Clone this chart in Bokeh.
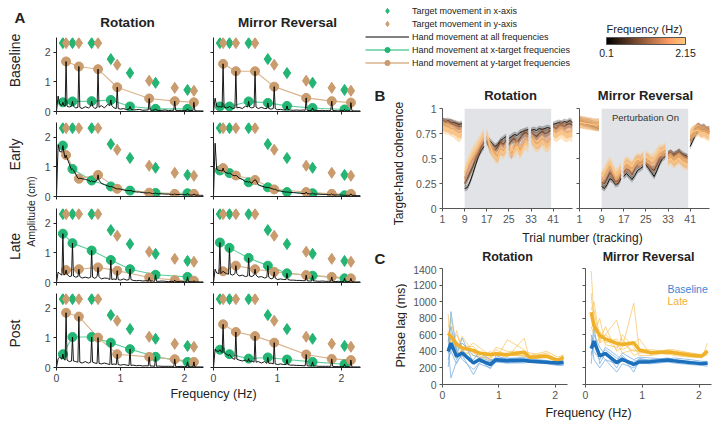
from math import pi
from bokeh.plotting import figure
from bokeh.layouts import row, column
from bokeh.models import (Label, Legend, LegendItem, ColorBar, LinearColorMapper,
                          FixedTicker, BoxAnnotation, Range1d)
from bokeh.embed import file_html
from bokeh.resources import INLINE

FONT = "Liberation Sans"

# ---------------- Panel A data ----------------
x_target_freq = [0.10, 0.25, 0.55, 0.85, 1.15, 1.55, 2.05]
y_target_freq = [0.15, 0.35, 0.65, 0.95, 1.45, 1.85, 2.15]
x_target_amp = [2.31, 2.31, 2.31, 1.77, 1.30, 0.97, 0.73]
y_target_amp = [2.31, 2.31, 2.31, 1.58, 1.04, 0.80, 0.70]

spec_freq = [0.0, 0.025, 0.05, 0.10, 0.15, 0.20, 0.25, 0.30,
             0.35, 0.40, 0.45, 0.50, 0.55, 0.60, 0.65, 0.70,
             0.75, 0.80, 0.85, 0.90, 0.95, 1.00, 1.05, 1.10,
             1.15, 1.20, 1.25, 1.30, 1.35, 1.40, 1.45, 1.50,
             1.55, 1.60, 1.65, 1.70, 1.75, 1.80, 1.85, 1.90,
             1.95, 2.00, 2.05, 2.10, 2.15, 2.20, 2.25, 2.30]

base_rot_floor = [0.00, 0.52, 0.25, 0.20, 0.18, 0.15, 0.18, 0.12,
                  0.14, 0.10, 0.16, 0.12, 0.18, 0.10, 0.14, 0.20,
                  0.12, 0.24, 0.20, 0.12, 0.10, 0.08, 0.10, 0.06,
                  0.08, 0.05, 0.06, 0.07, 0.04, 0.05, 0.05, 0.04,
                  0.05, 0.03, 0.04, 0.05, 0.03, 0.04, 0.04, 0.03,
                  0.03, 0.03, 0.04, 0.03, 0.03, 0.02, 0.02, 0.02]
base_mir_floor = [0.00, 0.45, 0.18, 0.15, 0.15, 0.12, 0.15, 0.10,
                  0.12, 0.14, 0.10, 0.18, 0.15, 0.12, 0.15, 0.10,
                  0.14, 0.10, 0.10, 0.08, 0.10, 0.06, 0.07, 0.05,
                  0.06, 0.05, 0.04, 0.05, 0.04, 0.05, 0.04, 0.03,
                  0.04, 0.04, 0.03, 0.04, 0.03, 0.03, 0.04, 0.03,
                  0.02, 0.03, 0.03, 0.02, 0.03, 0.02, 0.02, 0.02]
early_rot_floor = [0.00, 1.75, 1.52, 1.50, 1.30, 1.10, 0.90, 0.75,
                   0.62, 0.60, 0.58, 0.55, 0.50, 0.50, 0.55, 0.45,
                   0.40, 0.36, 0.33, 0.30, 0.26, 0.25, 0.22, 0.20,
                   0.20, 0.17, 0.15, 0.15, 0.13, 0.12, 0.12, 0.10,
                   0.10, 0.09, 0.09, 0.08, 0.08, 0.07, 0.07, 0.07,
                   0.06, 0.06, 0.06, 0.05, 0.05, 0.05, 0.04, 0.04]
early_mir_floor = [0.00, 1.80, 0.92, 0.88, 0.85, 0.80, 0.78, 0.72,
                   0.70, 0.62, 0.58, 0.50, 0.50, 0.45, 0.55, 0.40,
                   0.35, 0.32, 0.30, 0.28, 0.25, 0.20, 0.18, 0.16,
                   0.15, 0.14, 0.13, 0.12, 0.11, 0.10, 0.10, 0.09,
                   0.09, 0.08, 0.08, 0.07, 0.07, 0.06, 0.06, 0.05,
                   0.05, 0.05, 0.04, 0.04, 0.04, 0.04, 0.03, 0.03]
late_rot_floor = [0.00, 0.35, 0.30, 0.25, 0.28, 0.20, 0.22, 0.18,
                  0.20, 0.15, 0.18, 0.15, 0.18, 0.14, 0.20, 0.12,
                  0.15, 0.14, 0.10, 0.12, 0.10, 0.08, 0.12, 0.08,
                  0.10, 0.07, 0.06, 0.07, 0.05, 0.06, 0.05, 0.05,
                  0.04, 0.04, 0.05, 0.04, 0.03, 0.04, 0.03, 0.03,
                  0.04, 0.03, 0.03, 0.03, 0.02, 0.02, 0.02, 0.02]
late_mir_floor = [0.00, 0.45, 0.32, 0.30, 0.35, 0.30, 0.28, 0.25,
                  0.30, 0.22, 0.25, 0.20, 0.22, 0.20, 0.25, 0.18,
                  0.20, 0.15, 0.18, 0.12, 0.15, 0.10, 0.12, 0.10,
                  0.10, 0.08, 0.08, 0.07, 0.07, 0.06, 0.06, 0.05,
                  0.05, 0.05, 0.04, 0.05, 0.04, 0.04, 0.04, 0.03,
                  0.04, 0.03, 0.03, 0.03, 0.03, 0.02, 0.02, 0.02]
post_rot_floor = [0.00, 0.30, 0.35, 0.28, 0.25, 0.20, 0.22, 0.20,
                  0.18, 0.15, 0.20, 0.15, 0.18, 0.15, 0.14, 0.12,
                  0.15, 0.12, 0.10, 0.12, 0.10, 0.08, 0.10, 0.08,
                  0.07, 0.08, 0.06, 0.07, 0.05, 0.06, 0.05, 0.05,
                  0.04, 0.05, 0.04, 0.04, 0.04, 0.04, 0.03, 0.03,
                  0.04, 0.03, 0.03, 0.03, 0.02, 0.02, 0.02, 0.02]
post_mir_floor = [0.00, 0.62, 0.55, 0.55, 0.50, 0.45, 0.40, 0.30,
                  0.28, 0.25, 0.22, 0.25, 0.20, 0.22, 0.18, 0.20,
                  0.15, 0.20, 0.14, 0.15, 0.12, 0.10, 0.12, 0.10,
                  0.10, 0.08, 0.08, 0.07, 0.07, 0.06, 0.06, 0.05,
                  0.05, 0.05, 0.04, 0.04, 0.04, 0.04, 0.04, 0.03,
                  0.03, 0.03, 0.03, 0.03, 0.02, 0.02, 0.02, 0.02]

base_rot_hx = [0.31, 0.34, 0.35, 0.39, 0.17, 0.09, 0.09]
base_rot_hy = [1.69, 1.52, 1.43, 0.82, 0.44, 0.35, 0.31]
base_mir_hx = [0.17, 0.17, 0.34, 0.29, 0.19, 0.12, 0.07]
base_mir_hy = [1.61, 1.36, 1.36, 0.84, 0.46, 0.35, 0.30]
early_rot_hx = [1.72, 0.93, 0.54, 0.34, 0.20, 0.12, 0.11]
early_rot_hy = [1.40, 0.60, 0.73, 0.26, 0.13, 0.09, 0.09]
early_mir_hx = [0.88, 0.79, 0.48, 0.31, 0.15, 0.11, 0.04]
early_mir_hy = [0.96, 0.71, 0.56, 0.24, 0.15, 0.09, 0.09]
late_rot_hx = [1.65, 1.33, 1.08, 0.76, 0.45, 0.26, 0.19]
late_rot_hy = [0.42, 0.45, 0.51, 0.40, 0.17, 0.08, 0.06]
late_mir_hx = [1.35, 1.17, 0.83, 0.57, 0.31, 0.23, 0.14]
late_mir_hy = [0.38, 0.57, 0.45, 0.36, 0.25, 0.19, 0.14]
post_rot_hx = [0.45, 1.03, 1.03, 0.84, 0.62, 0.36, 0.19]
post_rot_hy = [1.85, 1.72, 1.01, 0.45, 0.36, 0.28, 0.19]
post_mir_hx = [0.60, 0.45, 0.30, 0.34, 0.27, 0.19, 0.11]
post_mir_hy = [1.46, 1.20, 1.06, 0.84, 0.44, 0.29, 0.25]

phases = ["Baseline", "Early", "Late", "Post"]
groups = ["Rotation", "Mirror Reversal"]

# ---------------- Panel B data ----------------
trial_blocks = [[1, 2, 3, 4, 5, 6, 7, 8],
                [9, 10, 11, 12, 13, 14, 15, 16],
                [17, 18, 19, 20, 21, 22, 23, 24],
                [25, 26, 27, 28, 29, 30, 31, 32],
                [33, 34, 35, 36, 37, 38, 39, 40],
                [41, 42, 43, 44, 45, 46, 47, 48]]
pert_window = [9, 40.3]
coh_freq = [0.10, 0.85, 1.45, 2.15]

rot_coh_010 = [0.88, 0.87, 0.88, 0.86, 0.86, 0.85, 0.84, 0.85,
               0.20, 0.21, 0.27, 0.35, 0.44, 0.52, 0.58, 0.62,
               0.66, 0.68, 0.65, 0.62, 0.64, 0.68, 0.70, 0.72,
               0.70, 0.72, 0.74, 0.73, 0.76, 0.77, 0.78, 0.79,
               0.78, 0.79, 0.78, 0.80, 0.79, 0.80, 0.81, 0.80,
               0.84, 0.85, 0.86, 0.85, 0.87, 0.86, 0.88, 0.86]
rot_coh_085 = [0.87, 0.86, 0.85, 0.86, 0.84, 0.83, 0.82, 0.82,
               0.25, 0.30, 0.36, 0.42, 0.50, 0.55, 0.62, 0.66,
               0.68, 0.63, 0.60, 0.58, 0.62, 0.66, 0.64, 0.68,
               0.64, 0.68, 0.70, 0.66, 0.70, 0.74, 0.76, 0.74,
               0.76, 0.74, 0.72, 0.75, 0.77, 0.75, 0.76, 0.78,
               0.82, 0.80, 0.83, 0.84, 0.82, 0.84, 0.85, 0.83]
rot_coh_145 = [0.84, 0.83, 0.82, 0.80, 0.80, 0.78, 0.76, 0.77,
               0.30, 0.38, 0.45, 0.50, 0.55, 0.60, 0.66, 0.70,
               0.72, 0.62, 0.58, 0.55, 0.52, 0.60, 0.58, 0.62,
               0.60, 0.55, 0.62, 0.65, 0.58, 0.64, 0.70, 0.68,
               0.72, 0.68, 0.65, 0.66, 0.70, 0.68, 0.66, 0.70,
               0.78, 0.76, 0.78, 0.80, 0.78, 0.76, 0.77, 0.78]
rot_coh_215 = [0.82, 0.80, 0.80, 0.78, 0.77, 0.74, 0.72, 0.75,
               0.36, 0.44, 0.50, 0.56, 0.60, 0.65, 0.70, 0.74,
               0.75, 0.64, 0.57, 0.52, 0.50, 0.58, 0.55, 0.60,
               0.55, 0.60, 0.56, 0.62, 0.55, 0.60, 0.65, 0.62,
               0.70, 0.65, 0.62, 0.64, 0.68, 0.63, 0.62, 0.66,
               0.75, 0.72, 0.74, 0.76, 0.73, 0.72, 0.74, 0.72]
rot_coh_sem = [0.03, 0.04, 0.06, 0.06]

mir_coh_010 = [0.87, 0.86, 0.85, 0.84, 0.83, 0.82, 0.81, 0.80,
               0.22, 0.20, 0.24, 0.30, 0.28, 0.24, 0.25, 0.30,
               0.32, 0.35, 0.32, 0.29, 0.33, 0.38, 0.40, 0.42,
               0.44, 0.40, 0.36, 0.32, 0.38, 0.45, 0.50, 0.52,
               0.55, 0.56, 0.54, 0.55, 0.57, 0.55, 0.53, 0.52,
               0.62, 0.68, 0.74, 0.78, 0.80, 0.79, 0.78, 0.77]
mir_coh_085 = [0.88, 0.87, 0.86, 0.86, 0.85, 0.84, 0.83, 0.83,
               0.26, 0.25, 0.30, 0.36, 0.32, 0.27, 0.28, 0.34,
               0.36, 0.40, 0.38, 0.34, 0.40, 0.44, 0.46, 0.47,
               0.46, 0.44, 0.40, 0.38, 0.44, 0.50, 0.54, 0.55,
               0.53, 0.55, 0.52, 0.54, 0.56, 0.52, 0.51, 0.50,
               0.68, 0.74, 0.80, 0.82, 0.80, 0.81, 0.78, 0.79]
mir_coh_145 = [0.87, 0.86, 0.86, 0.85, 0.85, 0.84, 0.84, 0.84,
               0.30, 0.32, 0.38, 0.42, 0.36, 0.30, 0.32, 0.38,
               0.40, 0.44, 0.42, 0.40, 0.45, 0.48, 0.47, 0.50,
               0.50, 0.48, 0.45, 0.46, 0.50, 0.55, 0.56, 0.58,
               0.50, 0.52, 0.48, 0.50, 0.52, 0.49, 0.47, 0.46,
               0.72, 0.76, 0.78, 0.80, 0.77, 0.78, 0.76, 0.75]
mir_coh_215 = [0.86, 0.86, 0.85, 0.85, 0.84, 0.84, 0.83, 0.84,
               0.32, 0.36, 0.42, 0.46, 0.40, 0.34, 0.35, 0.40,
               0.44, 0.46, 0.45, 0.42, 0.47, 0.50, 0.48, 0.52,
               0.52, 0.50, 0.48, 0.50, 0.55, 0.58, 0.58, 0.60,
               0.48, 0.50, 0.46, 0.48, 0.50, 0.47, 0.45, 0.44,
               0.74, 0.77, 0.78, 0.78, 0.76, 0.76, 0.74, 0.73]
mir_coh_sem = [0.03, 0.04, 0.06, 0.06]

# ---------------- Panel C data ----------------
c_freq = [0.10, 0.15, 0.25, 0.35, 0.55, 0.65, 0.85, 0.95, 1.15, 1.45, 1.55, 1.85, 2.05, 2.15]
rot_base_mean = [400, 500, 340, 380, 260, 300, 240, 300, 288, 292, 280, 268, 260, 268]
rot_late_mean = [620, 580, 490, 440, 412, 380, 360, 372, 360, 388, 328, 340, 292, 328]
mir_base_mean = [432, 524, 344, 376, 264, 304, 244, 272, 276, 296, 287, 264, 252, 256]
mir_late_mean = [872, 704, 592, 552, 496, 484, 504, 416, 384, 392, 384, 352, 344, 404]

rot_base_subj = [
    [210, 500, 300, 420, 250, 300, 230, 280, 260, 280, 280, 260, 240, 250],
    [380, 880, 420, 300, 180, 260, 280, 300, 290, 280, 300, 280, 260, 270],
    [450, 80, 280, 350, 120, 250, 200, 270, 260, 260, 270, 250, 230, 230],
    [520, 700, 400, 500, 350, 330, 280, 320, 320, 310, 290, 280, 270, 260],
    [300, 400, 250, 380, 300, 380, 300, 310, 310, 330, 300, 270, 260, 280],
    [420, 600, 350, 560, 260, 300, 190, 350, 300, 290, 310, 290, 250, 240]]
rot_late_subj = [
    [850, 400, 650, 400, 500, 450, 350, 450, 400, 400, 380, 350, 310, 330],
    [500, 800, 420, 580, 380, 350, 290, 300, 540, 420, 350, 400, 330, 360],
    [650, 500, 600, 450, 460, 380, 380, 360, 330, 560, 300, 340, 280, 310],
    [720, 650, 380, 400, 350, 330, 320, 420, 350, 350, 320, 330, 270, 300],
    [560, 450, 520, 350, 420, 300, 400, 350, 380, 370, 340, 360, 300, 340],
    [600, 550, 450, 500, 380, 400, 300, 390, 360, 340, 330, 380, 290, 350]]
mir_base_subj = [
    [430, 700, 250, 380, 200, 330, 150, 300, 270, 290, 280, 260, 240, 250],
    [350, 500, 350, 420, 320, 280, 280, 300, 300, 320, 300, 270, 260, 260],
    [550, 300, 200, 300, 150, 250, 200, 260, 250, 270, 260, 240, 230, 220],
    [250, 600, 450, 350, 280, 380, 300, 330, 320, 300, 320, 300, 280, 280],
    [600, 400, 300, 450, 350, 300, 250, 280, 290, 310, 290, 280, 250, 260],
    [380, 480, 380, 300, 250, 350, 220, 320, 280, 280, 290, 260, 240, 240]]
mir_late_subj = [
    [1370, 800, 500, 700, 400, 450, 980, 400, 380, 420, 400, 380, 360, 420],
    [900, 1000, 550, 600, 780, 500, 400, 420, 420, 400, 400, 360, 340, 380],
    [700, 600, 800, 480, 450, 550, 350, 380, 380, 380, 350, 330, 330, 360],
    [1100, 700, 650, 500, 550, 420, 500, 550, 360, 420, 420, 380, 350, 400],
    [600, 500, 550, 600, 500, 380, 420, 390, 400, 360, 380, 350, 330, 370],
    [800, 900, 500, 550, 420, 600, 450, 350, 350, 390, 370, 340, 320, 500]]

# ---------------- styling helpers ----------------
GREEN, GREEN_L = "#22b573", "#62cf9e"
TAN, TAN_L = "#c99b6d", "#dab38c"
BLUE_THIN, BLUE = "#6ea8e0", "#1c6fba"
ORANGE_THIN, ORANGE = "#f6c35c", "#f0b12a"


def copper(t):
    r = min(1.0, 1.25 * t)
    g = 0.7812 * t
    b = 0.4975 * t
    return "#%02x%02x%02x" % (int(r * 255), int(g * 255), int(b * 255))


COPPER = [copper(i / 255) for i in range(256)]


def mkfig(w, h, bl, br, bt, bb, xr, yr, axes=True):
    kw = {}
    if not axes:
        kw = dict(x_axis_location=None, y_axis_location=None)
    p = figure(width=w, height=h, x_range=Range1d(*xr), y_range=Range1d(*yr),
               output_backend="svg", toolbar_location=None,
               min_border_left=bl, min_border_right=br,
               min_border_top=bt, min_border_bottom=bb, **kw)
    p.outline_line_color = None
    p.grid.visible = False
    return p


def strip(w, h):
    return mkfig(w, h, 0, 0, 0, 0, (0, 1), (0, 1), axes=False)


def style_axes(p, line="#222222", lab="#444444", size="10.5px"):
    for ax in p.axis:
        ax.minor_tick_line_color = None
        ax.major_tick_in = 0
        ax.major_tick_out = 3
        ax.axis_line_color = line
        ax.major_tick_line_color = line
        ax.major_label_text_font = FONT
        ax.major_label_text_font_size = size
        ax.major_label_text_color = lab
        ax.major_label_standoff = 3


def hide_labels(ax):
    ax.major_label_text_color = None
    ax.major_label_text_font_size = "0px"
    ax.major_label_standoff = 0


def txt(p, x, y, s, size="12px", bold=False, color="#222222", align="center",
        baseline="middle", angle=0.0):
    p.add_layout(Label(x=x, y=y, x_units="screen", y_units="screen", text=s,
                       text_font=FONT, text_font_size=size,
                       text_font_style="bold" if bold else "normal",
                       text_color=color, text_align=align,
                       text_baseline=baseline, angle=angle))


def spectrum(floor, hx, hy):
    peaks = {round(f, 2): v for f, v in zip(x_target_freq, hx)}
    peaks.update({round(f, 2): v for f, v in zip(y_target_freq, hy)})
    xs, ys = [], []
    for f, v in zip(spec_freq, floor):
        k = round(f, 2)
        if f > 0.04 and k in peaks:
            xs += [f - 0.015, f, f + 0.015]
            ys += [v, peaks[k], v]
        else:
            xs.append(f)
            ys.append(v)
    return xs, ys


# ---------------- Panel A ----------------
a_data = {
    (0, 0): (base_rot_floor, base_rot_hx, base_rot_hy),
    (0, 1): (base_mir_floor, base_mir_hx, base_mir_hy),
    (1, 0): (early_rot_floor, early_rot_hx, early_rot_hy),
    (1, 1): (early_mir_floor, early_mir_hx, early_mir_hy),
    (2, 0): (late_rot_floor, late_rot_hx, late_rot_hy),
    (2, 1): (late_mir_floor, late_mir_hx, late_mir_hy),
    (3, 0): (post_rot_floor, post_rot_hx, post_rot_hy),
    (3, 1): (post_mir_floor, post_mir_hx, post_mir_hy),
}
row_geom = [(84, 5, 5), (85, 6, 5), (86, 7, 5), (98, 6, 18)]
a_rows = []
for r in range(4):
    h, bt, bb = row_geom[r]
    figs = []
    for c in range(2):
        if c == 0:
            p = mkfig(170, h, 18, 5, bt, bb, (0, 2.3), (0, 2.5))
        else:
            p = mkfig(157, h, 5, 5, bt, bb, (0, 2.3), (0, 2.5))
        style_axes(p)
        p.xaxis.ticker = FixedTicker(ticks=[0, 1, 2])
        p.yaxis.ticker = FixedTicker(ticks=[0, 1, 2])
        if r < 3:
            hide_labels(p.xaxis[0])
        if c == 1:
            hide_labels(p.yaxis[0])
        floor, hx, hy = a_data[(r, c)]
        sx, sy = spectrum(floor, hx, hy)
        p.line(x_target_freq, hx, color=GREEN_L, line_width=1.1)
        p.line(y_target_freq, hy, color=TAN_L, line_width=1.1)
        p.scatter(x_target_freq, hx, size=9, color=GREEN)
        p.scatter(y_target_freq, hy, size=9, color=TAN)
        p.line(sx, sy, color="black", line_width=0.9)
        p.scatter(x_target_freq, x_target_amp, marker="diamond", size=11, color=GREEN)
        p.scatter(y_target_freq, y_target_amp, marker="diamond", size=11, color=TAN)
        figs.append(p)
    a_rows.append(row(*figs))

a_head = strip(327, 32)
txt(a_head, 89, 10, groups[0], size="13.5px", bold=True)
txt(a_head, 249, 10, groups[1], size="13.5px", bold=True)

a_lab = strip(38, 420)
txt(a_lab, 14, 412, "A", size="15px", bold=True, align="left", baseline="top")
for name, yy in zip(phases, [360, 266, 174, 87]):
    txt(a_lab, 14, yy, name, size="14px", angle=pi / 2)
txt(a_lab, 30, 209, "Amplitude (cm)", size="10.5px", angle=pi / 2)

a_strip = strip(327, 35)
txt(a_strip, 175, 27, "Frequency (Hz)", size="12.5px")

left = row(a_lab, column(a_head, *a_rows, a_strip))

# ---------------- Legend + colorbar ----------------
pleg = strip(350, 80)
far = [-10, -9]
lr1 = pleg.scatter(far, far, marker="diamond", size=11, color=GREEN)
lr2 = pleg.scatter(far, far, marker="diamond", size=11, color=TAN)
lr3 = pleg.line(far, far, color="black", line_width=1)
lr4a = pleg.line(far, far, color=GREEN_L, line_width=1.5)
lr4b = pleg.scatter(far, far, size=8, color=GREEN)
lr5a = pleg.line(far, far, color=TAN_L, line_width=1.5)
lr5b = pleg.scatter(far, far, size=8, color=TAN)
legend = Legend(items=[
    LegendItem(label="Target movement in x-axis", renderers=[lr1]),
    LegendItem(label="Target movement in y-axis", renderers=[lr2]),
    LegendItem(label="Hand movement at all frequencies", renderers=[lr3]),
    LegendItem(label="Hand movement at x-target frequencies", renderers=[lr4a, lr4b]),
    LegendItem(label="Hand movement at y-target frequencies", renderers=[lr5a, lr5b]),
], location=(0, 11), padding=0, margin=0, spacing=0, glyph_width=44,
    glyph_height=13, label_height=13, label_standoff=3, label_text_font=FONT,
    label_text_font_size="9px", label_text_color="#222222",
    border_line_color=None, background_fill_alpha=0)
pleg.add_layout(legend)

cmap = LinearColorMapper(palette=COPPER, low=0.1, high=2.15)
cbar = ColorBar(color_mapper=cmap, orientation="horizontal", width=79, height=7,
                location=(241, 21), ticker=FixedTicker(ticks=[0.1, 2.15]),
                major_label_overrides={0.1: "0.1", 2.15: "2.15"},
                title="Frequency (Hz)", title_text_font=FONT,
                title_text_font_size="11px", title_text_font_style="normal",
                title_text_color="#222222", title_standoff=5,
                major_label_text_font=FONT, major_label_text_font_size="10.5px",
                major_label_text_color="#222222", major_tick_line_color=None,
                bar_line_color="#555555", padding=0, label_standoff=4,
                background_fill_alpha=0, border_line_color=None)
pleg.add_layout(cbar)

# ---------------- Panel B ----------------
b_sets = [([rot_coh_010, rot_coh_085, rot_coh_145, rot_coh_215], rot_coh_sem),
          ([mir_coh_010, mir_coh_085, mir_coh_145, mir_coh_215], mir_coh_sem)]
b_figs = []
for c in range(2):
    if c == 0:
        p = mkfig(168, 125, 35, 3, 5, 20, (1, 48), (0, 1.0))
    else:
        p = mkfig(140, 125, 4, 6, 5, 20, (1, 48), (0, 1.0))
    style_axes(p, line="#555555", lab="#555555")
    p.xaxis.ticker = FixedTicker(ticks=[1, 9, 17, 25, 33, 41])
    p.yaxis.ticker = FixedTicker(ticks=[0, 0.25, 0.5, 0.75, 1])
    p.yaxis.major_label_overrides = {0: "0", 0.25: "0.25", 0.5: "0.5", 0.75: "0.75", 1: "1"}
    if c == 1:
        hide_labels(p.yaxis[0])
    p.add_layout(BoxAnnotation(left=pert_window[0], right=pert_window[1],
                               fill_color="#e1e3e6", fill_alpha=1.0,
                               line_color=None, level="underlay"))
    series, sem = b_sets[c]
    for i, vals in enumerate(series):
        col = copper((coh_freq[i] - coh_freq[0]) / (coh_freq[-1] - coh_freq[0]))
        fa = 0.25 if i == 0 else 0.5
        lw = 0.9 if i == 0 else 1.2
        for b, tr in enumerate(trial_blocks):
            v = vals[8 * b:8 * b + 8]
            p.varea(x=tr, y1=[a - sem[i] for a in v], y2=[a + sem[i] for a in v],
                    fill_color=col, fill_alpha=fa)
            p.line(tr, v, color=col, line_width=lw)
    b_figs.append(p)
txt(b_figs[1], 66, 91, "Perturbation On", size="9.5px", color="#333333")

b_side = strip(42, 165)
txt(b_side, 9, 159, "B", size="15px", bold=True, align="left", baseline="top")
txt(b_side, 33, 82, "Target-hand coherence", size="12px", angle=pi / 2)

b_head = strip(308, 23)
txt(b_head, 103, 8, groups[0], size="13px", bold=True)
txt(b_head, 238, 8, groups[1], size="13px", bold=True)

b_strip = strip(308, 17)
txt(b_strip, 175, 8, "Trial number (tracking)", size="12px")

# ---------------- Panel C ----------------
c_sets = [(rot_base_subj, rot_late_subj, rot_base_mean, rot_late_mean),
          (mir_base_subj, mir_late_subj, mir_base_mean, mir_late_mean)]
c_figs = []
for c in range(2):
    if c == 0:
        p = mkfig(165, 139, 35, 5, 3, 20, (0, 2.22), (0, 1400))
    else:
        p = mkfig(143, 139, 13, 4, 3, 20, (0, 2.22), (0, 1400))
    style_axes(p, line="#555555", lab="#555555")
    p.xaxis.ticker = FixedTicker(ticks=[0, 1, 2])
    p.yaxis.ticker = FixedTicker(ticks=[0, 200, 400, 600, 800, 1000, 1200, 1400])
    if c == 1:
        hide_labels(p.yaxis[0])
    bs, ls, bm, lm = c_sets[c]
    for s in ls:
        p.line(c_freq, s, color=ORANGE_THIN, line_width=0.9, line_alpha=0.8)
    for s in bs:
        p.line(c_freq, s, color=BLUE_THIN, line_width=0.9, line_alpha=0.8)
    p.line(c_freq, lm, color=ORANGE, line_width=3.5)
    p.line(c_freq, bm, color=BLUE, line_width=3.5)
    c_figs.append(p)
txt(c_figs[1], 82, 96, "Baseline", size="10.5px", color="#3a86d8", align="left")
txt(c_figs[1], 82, 84, "Late", size="10.5px", color="#f0b030", align="left")

c_side = strip(42, 175)
txt(c_side, 9, 171, "C", size="15px", bold=True, align="left", baseline="top")
txt(c_side, 35, 95, "Phase lag (ms)", size="12.5px", angle=pi / 2)

c_head = strip(308, 20)
txt(c_head, 100, 9, groups[0], size="12.5px", bold=True)
txt(c_head, 241, 9, groups[1], size="12.5px", bold=True)

c_strip = strip(308, 16)
txt(c_strip, 181, 8, "Frequency (Hz)", size="12.5px")

b_block = row(b_side, column(b_head, row(*b_figs), b_strip))
c_block = row(c_side, column(c_head, row(*c_figs), c_strip))
right = column(pleg, b_block, c_block)

root = row(left, right)
open("out.html", "w").write(file_html(root, INLINE))
